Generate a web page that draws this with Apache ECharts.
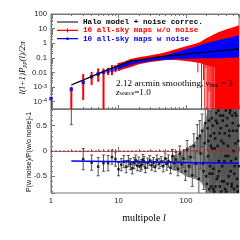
<!DOCTYPE html>
<html><head><meta charset="utf-8">
<script src="https://cdn.jsdelivr.net/npm/echarts@6/dist/echarts.min.js"></script>
<style>html,body{margin:0;padding:0;background:#fff}#c{width:240px;height:240px}</style>
</head><body><div id="c"></div>
<script>
// ---- data ----
const xTickLabels = ['1', '10', '100'];
const modelL   = [2, 3, 5, 7, 10, 15, 20, 30, 50, 100, 200, 400, 610];
const modelVal = [1.39e-3, 3.04e-3, 8.2e-3, 0.0157, 0.0295, 0.060, 0.070, 0.095, 0.130, 0.178, 0.244, 0.334, 0.42];

const redL  = [1, 2, 3, 4, 5, 6, 7, 8, 9, 10];
const redLo = [1e-6, 1e-6, 1.3e-4, 1.4e-3, 2.3e-3, 1e-6, 6.6e-3, 6.6e-3, 0.0106, 0.0125];
const redHi = [1.8e-4, 1.05e-3, 7.8e-3, 0.011, 0.019, 0.019, 0.021, 0.032, 0.032, 0.044];

const blueL   = [1, 2, 3, 4, 5, 6, 7, 8, 9, 10];
const blueVal = [1.6e-4, 7e-4, 2.1e-3, 5.1e-3, 7.8e-3, 0.0102, 0.0125, 0.0145, 0.018, 0.023];

const bandL  = [10, 12, 15, 20, 25, 30, 40, 50, 70, 100, 130, 160, 200, 230, 264, 265, 300, 350, 400, 500, 610];
const redUp  = [0.044, 0.0551, 0.082, 0.112, 0.130, 0.153, 0.193, 0.244, 0.39, 0.625, 0.855, 1.17, 2.19, 2.99, 4.1, 4.1, 5.6, 7.08, 8.96, 12.2, 16.8];
const redDn  = [0.0125, 0.017, 0.023, 0.037, 0.044, 0.051, 0.060, 0.070, 0.070, 0.060, 0.051, 0.044, 0.032, 0.027, 0.023, 1e-6, 1e-6, 1e-6, 1e-6, 1e-6, 1e-6];
const blueUp = [0.032, 0.0403, 0.0551, 0.070, 0.082, 0.095, 0.121, 0.153, 0.244, 0.39, 0.535, 0.731, 1.0, 1.17, 1.37, 1.37, 1.6, 1.87, 2.19, 2.77, 3.5];
const blueDn = [0.017, 0.023, 0.032, 0.044, 0.051, 0.060, 0.070, 0.0755, 0.082, 0.0883, 0.0883, 0.095, 0.095, 0.095, 0.095, 0.095, 0.095, 0.095, 0.103, 0.103, 0.112];

const spikeL  = [150, 170, 182, 190, 197, 205, 212, 220, 228, 236, 245, 252, 258];
const spikeLo = [0.01, 1e-6, 0.003, 1e-6, 0.02, 1e-6, 1e-6, 5e-4, 1e-6, 1e-6, 1e-6, 1e-6, 1e-6];
const spikeHi = [0.8, 1, 1.2, 1.3, 1.5, 1.8, 2, 2.2, 2.5, 2.8, 3, 3.5, 4];

const ratioL   = [2, 3, 4, 5, 6, 7, 8, 9, 10, 11, 12, 13, 14, 15, 16, 17, 18, 19, 20, 21, 22, 23, 24, 25, 27, 29, 31, 33, 35, 37, 40, 43, 46, 49, 52, 55, 59, 63, 67, 71, 76, 81, 86, 92, 98, 104, 110, 117, 124, 131, 139, 147, 155, 164, 173, 183, 193, 204, 209, 215, 221, 227, 233, 240, 246, 253, 260, 267, 274, 282, 290, 298, 306, 314, 323, 332, 341, 350, 360, 370, 380, 390, 401, 412, 423, 435, 447, 459, 472, 485, 498, 512, 526, 540, 555, 570, 585, 600];
const ratioVal = [1.0, -0.16, -0.23, -0.31, -0.24, -0.24, -0.12, -0.16, -0.36, -0.27, -0.21, -0.31, -0.2, -0.26, -0.34, -0.24, -0.18, -0.29, -0.22, -0.3, -0.27, -0.17, -0.21, -0.33, -0.24, -0.19, -0.28, -0.23, -0.31, -0.18, -0.25, -0.21, -0.3, -0.15, -0.26, -0.2, -0.33, -0.1, -0.24, -0.17, -0.35, -0.05, -0.26, -0.15, -0.4, 0.02, -0.3, -0.12, -0.48, 0.1, -0.25, 0.25, -0.55, -0.05, 0.4, -0.4, 0.55, -0.65, 0.45, 0.2, -0.75, -0.3, 0.1, 0.65, -0.45, -0.75, 0.35, 0.05, -0.7, 0.75, 0.55, -0.5, -0.2, 0.35, 0.7, -0.8, -0.6, 0.6, 0.15, -0.2, -0.75, 0.8, 0.5, -0.65, -0.1, 0.3, 0.75, -0.4, -0.7, 0.7, 0.4, -0.75, -0.3, 0.15, 0.7, -0.55, -0.8, 0.5];
const ratioErr = [0.48, 0.21, 0.15, 0.18, 0.16, 0.15, 0.14, 0.14, 0.13, 0.12, 0.12, 0.12, 0.11, 0.11, 0.11, 0.11, 0.1, 0.1, 0.1, 0.1, 0.1, 0.1, 0.1, 0.1, 0.1, 0.1, 0.1, 0.1, 0.1, 0.1, 0.1, 0.1, 0.11, 0.11, 0.12, 0.12, 0.12, 0.13, 0.13, 0.14, 0.14, 0.15, 0.16, 0.17, 0.18, 0.19, 0.2, 0.21, 0.22, 0.24, 0.25, 0.27, 0.29, 0.31, 0.33, 0.36, 0.38, 0.41, 0.43, 0.45, 0.47, 0.5, 0.52, 0.55, 0.57, 0.6, 0.62, 0.65, 0.67, 0.7, 0.72, 0.75, 0.77, 0.8, 0.82, 0.85, 0.87, 0.9, 0.95, 1.0, 1.0, 1.0, 1.05, 1.1, 1.1, 1.1, 1.15, 1.2, 1.2, 1.2, 1.25, 1.3, 1.3, 1.3, 1.35, 1.4, 1.4, 1.4];

const ratioExtraL   = [160, 178, 188, 198, 212, 218, 224, 230, 237, 243, 250, 256, 263, 270, 278, 286, 294, 302, 310, 318, 327, 336, 345, 355, 365, 375, 385, 395, 406, 417, 429, 441, 453, 466, 479, 491, 505, 519, 533, 547, 562, 577, 592, 607];
const ratioExtraVal = [0.3, -0.25, 0.15, -0.5, -0.1, 0.6, -0.45, 0.3, -0.7, 0.05, 0.5, -0.35, -0.8, 0.25, 0.6, -0.55, 0.1, 0.8, -0.4, -0.7, 0.45, 0.2, -0.3, 0.7, -0.6, 0.35, -0.1, -0.8, 0.65, 0.1, -0.5, 0.4, 0.8, -0.2, -0.65, 0.55, 0.0, -0.45, 0.75, -0.15, 0.4, -0.7, 0.2, -0.3];
const ratioExtraErr = [0.3, 0.34, 0.36, 0.38, 0.42, 0.44, 0.46, 0.48, 0.5, 0.52, 0.55, 0.57, 0.6, 0.62, 0.65, 0.68, 0.7, 0.72, 0.75, 0.78, 0.8, 0.82, 0.85, 0.88, 0.9, 0.92, 0.95, 0.98, 1.0, 1.0, 1.05, 1.05, 1.1, 1.1, 1.15, 1.15, 1.2, 1.2, 1.25, 1.25, 1.3, 1.3, 1.35, 1.35];

const ratioBandL  = [60, 80, 100, 130, 160, 190, 215, 240, 610];
const ratioBandLo = [-0.36, -0.42, -0.5, -0.55, -0.6, -0.72, -0.9, -0.9, -0.9];
const ratioBandHi = [-0.1, -0.04, 0.05, 0.15, 0.3, 0.55, 0.9, 0.9, 0.9];

const fitL   = [2, 610];
const fitVal = [-0.2, -0.24];
const zeroL   = [1, 610];
const zeroVal = [0, 0];

// ---- chart ----
const chart = echarts.init(document.getElementById('c'), null, {renderer: 'canvas'});
const AX = '#777';
const labelFont = {fontFamily: 'Liberation Sans', fontSize: 7.7, color: '#222'};

function bandSeries(name, xi, yi, L, lo, hi, color, z) {
  return {
    type: 'custom', name: name, xAxisIndex: xi, yAxisIndex: yi, z: z, silent: true, clip: true,
    encode: {x: 0, y: [1, 2]},
    data: [[L[0], lo[0], hi[0]]],
    renderItem: function (params, api) {
      const pts = [];
      for (let i = 0; i < L.length; i++) pts.push(api.coord([L[i], hi[i]]));
      for (let i = L.length - 1; i >= 0; i--) pts.push(api.coord([L[i], lo[i]]));
      return {type: 'polygon', shape: {points: pts}, style: {fill: color}};
    }
  };
}
function errSeries(name, xi, yi, L, lo, hi, color, width, cap, z) {
  return {
    type: 'custom', name: name, xAxisIndex: xi, yAxisIndex: yi, z: z, silent: true, clip: true,
    encode: {x: 0, y: [1, 2]},
    data: L.map((l, i) => [l, lo[i], hi[i]]),
    renderItem: function (params, api) {
      const a = api.coord([api.value(0), api.value(1)]);
      const b = api.coord([api.value(0), api.value(2)]);
      const ch = [{type: 'line', shape: {x1: a[0], y1: a[1], x2: b[0], y2: b[1]}, style: {stroke: color, lineWidth: width}}];
      if (cap) {
        ch.push({type: 'line', shape: {x1: a[0] - cap, y1: a[1], x2: a[0] + cap, y2: a[1]}, style: {stroke: color, lineWidth: 1}});
        ch.push({type: 'line', shape: {x1: b[0] - cap, y1: b[1], x2: b[0] + cap, y2: b[1]}, style: {stroke: color, lineWidth: 1}});
      }
      return {type: 'group', children: ch};
    }
  };
}

function logLabel(v) {
  const e = Math.round(Math.log10(v));
  if (e >= 0) return String(Math.pow(10, e));
  if (e >= -2) return (e === -1 ? '0.1' : '0.01');
  return '10{sup|' + e + '}';
}

const xCommon = {
  type: 'log', logBase: 10, min: 1, max: 610,
  axisLine: {lineStyle: {color: AX}},
  axisTick: {inside: true, length: 4, lineStyle: {color: AX}},
  minorTick: {show: true, splitNumber: 9, length: 2, lineStyle: {color: AX}},
  splitLine: {show: false}, minorSplitLine: {show: false}
};

const ratioLo = ratioVal.map((v, i) => v - ratioErr[i]);
const ratioHi = ratioVal.map((v, i) => v + ratioErr[i]);
const ratioExtraLo = ratioExtraVal.map((v, i) => v - ratioExtraErr[i]);
const ratioExtraHi = ratioExtraVal.map((v, i) => v + ratioExtraErr[i]);

const NAME_M = 'Halo model + noise correc.';
const NAME_R = '10 all-sky maps w/o noise';
const NAME_B = '10 all-sky maps w noise';

const serifRich = {
  r: {fontFamily: 'Liberation Serif', fontSize: 9.2, fill: '#000'},
  i: {fontFamily: 'Liberation Serif', fontStyle: 'italic', fontSize: 9.2, fill: '#000'},
  s: {fontFamily: 'Liberation Serif', fontSize: 5.6, verticalAlign: 'bottom', fill: '#000'}
};

chart.setOption({
  animation: false,
  backgroundColor: '#fff',
  grid: [
    {left: 51, right: 1, top: 14, height: 95, show: true, borderColor: AX, borderWidth: 1},
    {left: 51, right: 1, top: 109, height: 84, show: true, borderColor: AX, borderWidth: 1}
  ],
  xAxis: [
    Object.assign({gridIndex: 0, axisLabel: {show: false}}, xCommon),
    Object.assign({gridIndex: 1, axisLabel: Object.assign({margin: 4, showMaxLabel: false,
      formatter: function (v) { const e = Math.round(Math.log10(v)); return xTickLabels[e] || ''; }}, labelFont)}, xCommon),
    Object.assign({gridIndex: 0, position: 'top', axisLabel: {show: false}}, xCommon)
  ],
  yAxis: [
    {gridIndex: 0, type: 'log', logBase: 10, min: 3.1623e-5, max: 100,
     axisLine: {lineStyle: {color: AX}},
     axisTick: {inside: true, length: 4, lineStyle: {color: AX}},
     minorTick: {show: true, splitNumber: 9, length: 2, lineStyle: {color: AX}},
     splitLine: {show: false},
     axisLabel: Object.assign({margin: 4, showMinLabel: false, formatter: logLabel,
       rich: {sup: {fontFamily: 'Liberation Sans', fontSize: 5.5, verticalAlign: 'top', color: '#222'}}}, labelFont)},
    {gridIndex: 1, type: 'value', min: -0.83, max: 0.83, splitNumber: 4,
     axisLine: {lineStyle: {color: AX}},
     axisTick: {inside: true, length: 4, lineStyle: {color: AX}},
     minorTick: {show: true, splitNumber: 5, length: 2, lineStyle: {color: AX}},
     splitLine: {show: false},
     axisLabel: Object.assign({margin: 4, showMinLabel: false, showMaxLabel: false,
       formatter: function (v) { return String(Math.round(v * 10) / 10); }}, labelFont)}
  ],
  legend: {
    orient: 'vertical', left: 57, top: 18, itemWidth: 21, itemHeight: 7, itemGap: 0.3,
    selectedMode: false, padding: 0, z: 20,
    textStyle: {fontFamily: 'Liberation Mono', fontWeight: 'bold', fontSize: 7.7, lineHeight: 7},
    data: [
      {name: NAME_M, icon: 'path://M0,0 L0,7 Z M0,2.6 L21,2.6 L21,4.6 L0,4.6 Z', itemStyle: {color: '#808080', borderWidth: 0}, textStyle: {color: '#000'}},
      {name: NAME_R, icon: 'path://M0,0 L0,7 Z M0,3 L21,3 L21,4.2 L0,4.2 Z M10,1.5 L11,1.5 L11,5.7 L10,5.7 Z', itemStyle: {color: '#ff0000', borderWidth: 0}, textStyle: {color: '#ff0000'}},
      {name: NAME_B, icon: 'path://M0,0 L0,7 Z M0,3 L21,3 L21,4.2 L0,4.2 Z M9.5,2.3 L11.5,2.3 L11.5,4.9 L9.5,4.9 Z', itemStyle: {color: '#0000ff', borderWidth: 0}, textStyle: {color: '#0000ff'}}
    ]
  },
  series: [
    bandSeries(NAME_R, 0, 0, bandL, redDn, redUp, '#ff0000', 2),
    errSeries(NAME_R, 0, 0, spikeL, spikeLo, spikeHi, '#ff0000', 1, 0, 2),
    errSeries(NAME_R, 0, 0, redL, redLo, redHi, '#ff0000', 2, 0, 3),
    bandSeries(NAME_B, 0, 0, bandL, blueDn, blueUp, '#0000ff', 4),
    {type: 'scatter', name: NAME_B, xAxisIndex: 0, yAxisIndex: 0, z: 5, silent: true,
     symbol: 'rect', symbolSize: 3.5, itemStyle: {color: '#0000ff'},
     data: blueL.map((l, i) => [l, blueVal[i]])},
    {type: 'line', name: NAME_M, xAxisIndex: 0, yAxisIndex: 0, z: 6, silent: true,
     showSymbol: false, smooth: 0.3, lineStyle: {color: '#000', width: 1.3},
     data: modelL.map((l, i) => [l, modelVal[i]])},

    bandSeries('ratioBand', 1, 1, ratioBandL, ratioBandLo, ratioBandHi, '#8c8c8c', 1),
    errSeries('ratioErr', 1, 1, ratioL, ratioLo, ratioHi, '#555', 1, 1.5, 2),
    errSeries('ratioErr2', 1, 1, ratioExtraL, ratioExtraLo, ratioExtraHi, '#555', 1, 1.5, 2),
    {type: 'scatter', name: 'ratio', xAxisIndex: 1, yAxisIndex: 1, z: 3, silent: true,
     symbol: 'rect', symbolSize: 2.5, itemStyle: {color: '#000'},
     data: ratioL.map((l, i) => [l, ratioVal[i]])},
    {type: 'scatter', name: 'ratio2', xAxisIndex: 1, yAxisIndex: 1, z: 3, silent: true,
     symbol: 'rect', symbolSize: 2.5, itemStyle: {color: '#000'},
     data: ratioExtraL.map((l, i) => [l, ratioExtraVal[i]])},
    {type: 'line', name: 'zero', xAxisIndex: 1, yAxisIndex: 1, z: 4, silent: true, showSymbol: false,
     lineStyle: {color: '#ff0000', width: 1, type: [2, 2]},
     data: zeroL.map((l, i) => [l, zeroVal[i]])},
    {type: 'line', name: 'fit', xAxisIndex: 1, yAxisIndex: 1, z: 5, silent: true, showSymbol: false,
     lineStyle: {color: '#0000ff', width: 1.5},
     data: fitL.map((l, i) => [l, fitVal[i]])}
  ],
  graphic: [
    {type: 'text', x: 23, y: 68, rotation: Math.PI / 2, silent: true, z: 100,
     style: {text: '{i|l(l+1)P}{s|pp}{i|(l)/2π}', align: 'center', verticalAlign: 'middle',
       rich: {i: {fontFamily: 'Liberation Serif', fontStyle: 'italic', fontSize: 9, fill: '#000'},
              s: {fontFamily: 'Liberation Serif', fontStyle: 'italic', fontSize: 6, verticalAlign: 'bottom', fill: '#000'}}}},
    {type: 'text', x: 29, y: 152, rotation: Math.PI / 2, silent: true, z: 100,
     style: {text: 'P(w noise)/P(w/o noise)-1', align: 'center', verticalAlign: 'middle',
       font: '7px "Liberation Sans"', fill: '#000'}},
    {type: 'text', x: 144, y: 218, silent: true, z: 100,
     style: {text: '{r|multipole }{i|l}', align: 'center', verticalAlign: 'middle',
       rich: {r: {fontFamily: 'Liberation Serif', fontSize: 10, fill: '#000'},
              i: {fontFamily: 'Liberation Serif', fontStyle: 'italic', fontSize: 10, fill: '#000'}}}},
    {type: 'text', x: 116, y: 84, silent: true, z: 100,
     style: {text: '{r|2.12 arcmin smoothing, }{i|ν}{s|thre}{r| = 3}', align: 'left', verticalAlign: 'middle', rich: serifRich}},
    {type: 'text', x: 116, y: 92.5, silent: true, z: 100,
     style: {text: '{i|z}{s|source}{r|=1.0}', align: 'left', verticalAlign: 'middle', rich: serifRich}}
  ]
});
</script></body></html>
